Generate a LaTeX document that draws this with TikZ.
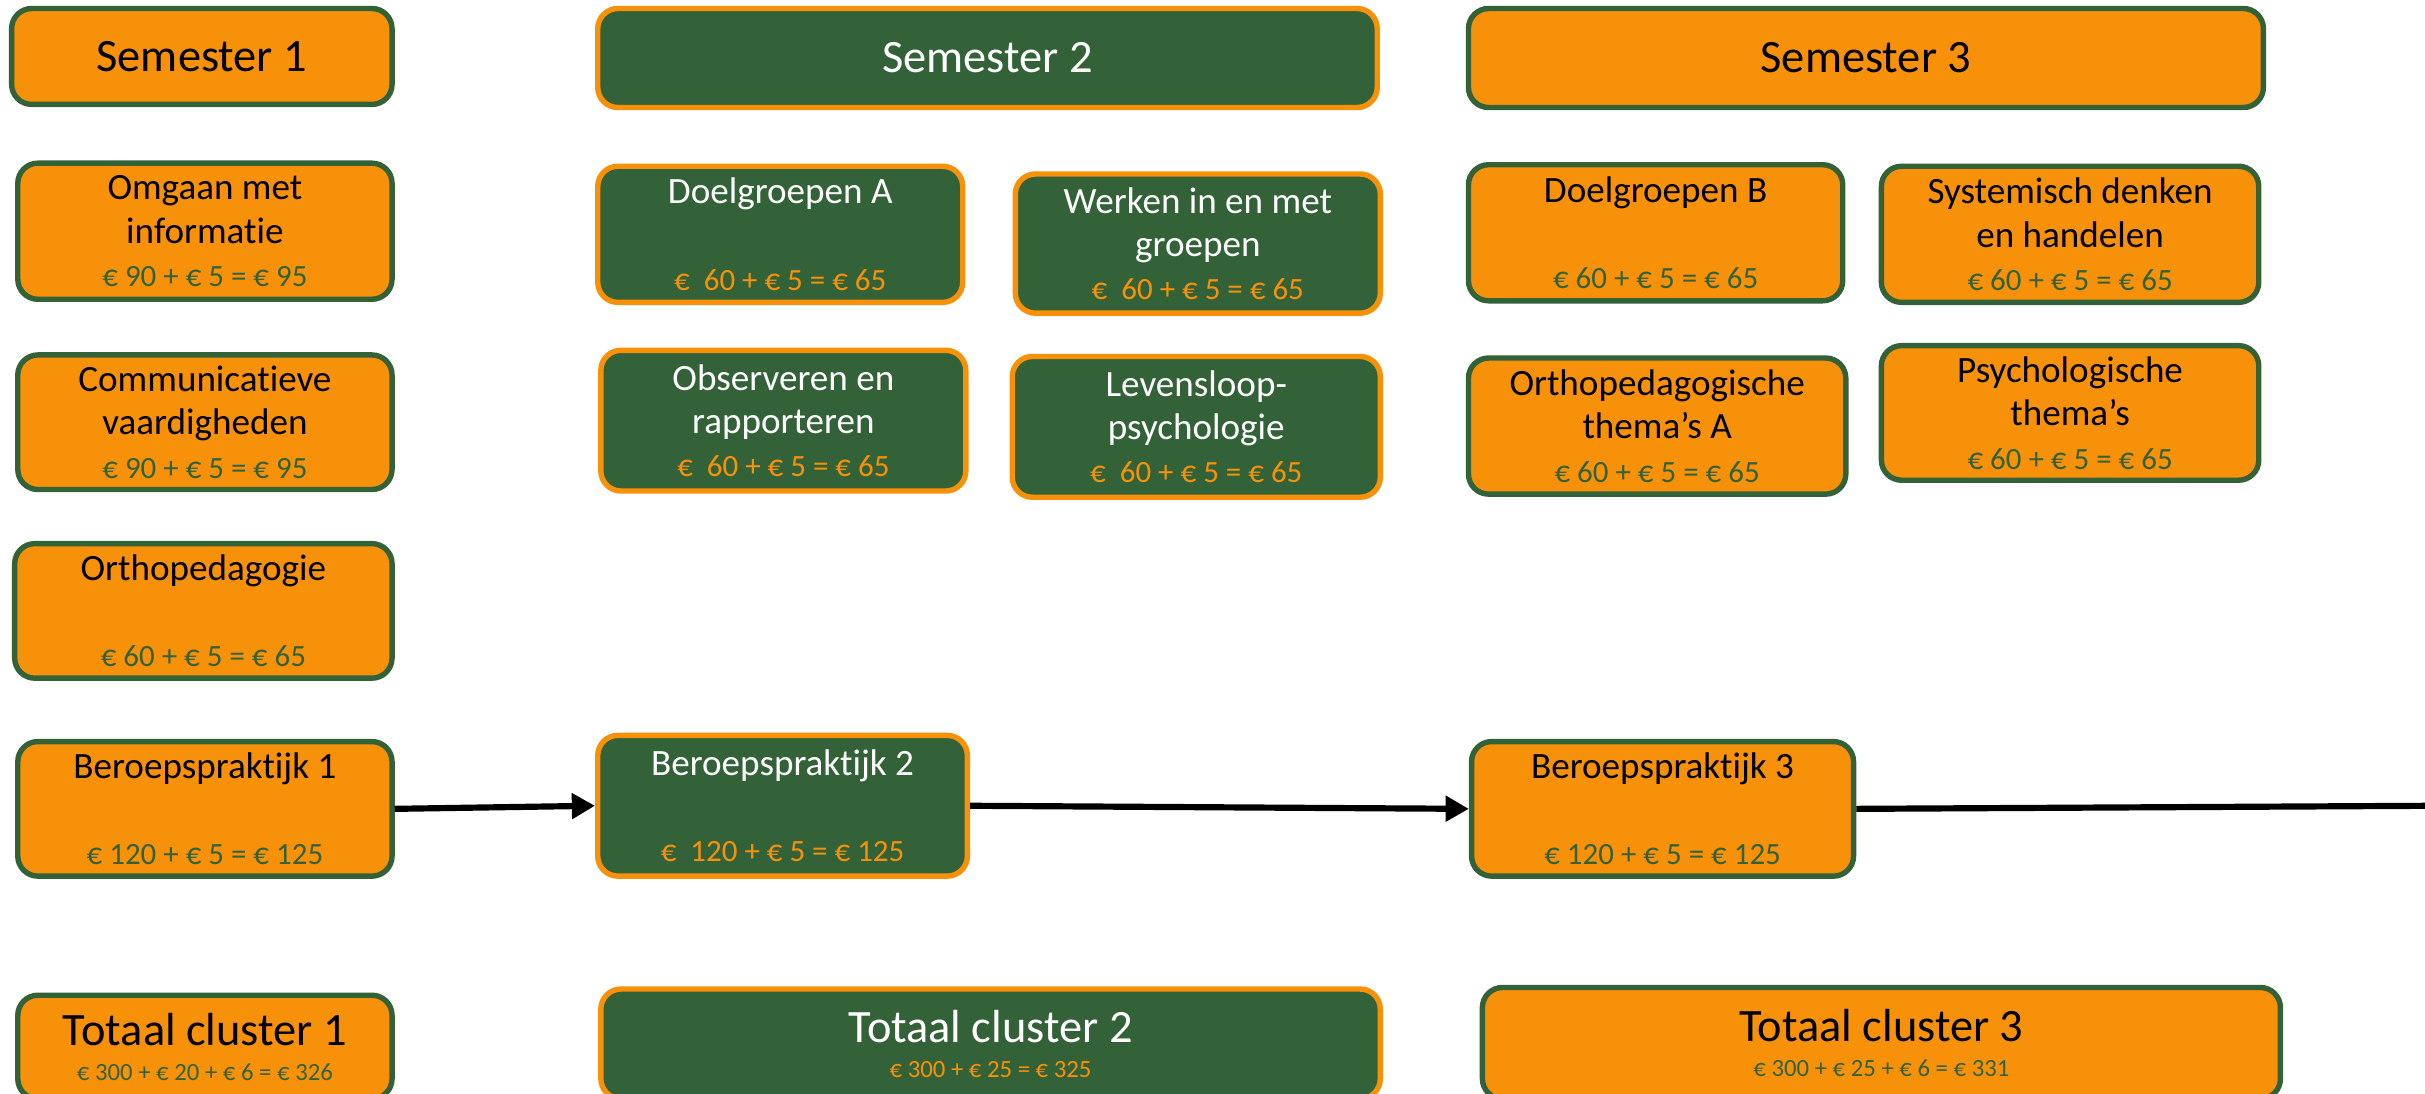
\documentclass[tikz,border=0pt]{standalone}
\usepackage{fontspec}
\setmainfont{Carlito}[RawFeature={-liga;-clig;-dlig;-calt}]
\usetikzlibrary{arrows.meta}
\definecolor{org}{RGB}{247,145,9}
\definecolor{grn}{RGB}{51,98,56}
\newcommand{\pg}[1]{{\fontsize{20}{28}\selectfont\color{grn}#1}}
\newcommand{\po}[1]{{\fontsize{20}{28}\selectfont\color{org}#1}}
\newcommand{\tg}[1]{{\fontsize{16}{22}\selectfont\color{grn}#1}}
\newcommand{\tor}[1]{{\fontsize{16}{22}\selectfont\color{org}#1}}
\tikzset{
  base/.style={line width=3.5pt, rounded corners=13pt, align=center, inner sep=0pt,
    font=\fontsize{24}{28}\selectfont},
  obox/.style={base, draw=grn, fill=org, text=black},
  gbox/.style={base, draw=org, fill=grn, text=white},
  sz/.style 2 args={minimum width=#1pt, minimum height=#2pt},
  semfont/.style={font=\fontsize{30}{36}\selectfont},
  totfont/.style={font=\fontsize{30}{23}\selectfont},
  arr/.style={line width=4pt, -{Triangle[length=15pt,width=16pt]}},
  line/.style={line width=4pt}
}
\begin{document}
\begin{tikzpicture}[x=1pt,y=-1pt]
\useasboundingbox (0,0) rectangle (1568,707);
% semesters
\node[obox, semfont, sz={246}{62}] (s1) at (130.5,36.5) {Semester 1};
\node[gbox, semfont, sz={504}{64}] (s2) at (638.5,37.5) {Semester 2};
\node[obox, semfont, sz={514}{64}] (s3) at (1206.5,37.5) {Semester 3};
% column 1
\node[obox, sz={242}{88}] (omg) at (132.5,149.5) {Omgaan met\\informatie\\\pg{€ 90 + € 5 = € 95}};
\node[obox, sz={242}{87}] (com) at (132.5,273) {Communicatieve\\vaardigheden\\\pg{€ 90 + € 5 = € 95}};
\node[obox, sz={244}{87}] (ort) at (131.5,395) {Orthopedagogie\\ \\\pg{€ 60 + € 5 = € 65}};
\node[obox, sz={242}{87}] (bp1) at (132.5,523) {Beroepspraktijk 1\\ \\\pg{€ 120 + € 5 = € 125}};
\node[obox, totfont, sz={242}{67}] (t1) at (132.5,677) {Totaal cluster 1\\\tg{€ 300 + € 20 + € 6 = € 326}};
% column 2
\node[gbox, sz={236}{88}] (dga) at (504.5,151.5) {Doelgroepen A\\ \\\po{€~~60 + € 5 = € 65}};
\node[gbox, sz={236}{90}] (wer) at (774.5,157.5) {Werken in en met\\groepen\\\po{€~~60 + € 5 = € 65}};
\node[gbox, sz={236}{91}] (obs) at (506.5,272) {Observeren en\\rapporteren\\\po{€~~60 + € 5 = € 65}};
\node[gbox, sz={238}{91}] (lev) at (773.5,276) {Levensloop-\\psychologie\\\po{€~~60 + € 5 = € 65}};
\node[gbox, sz={239}{91}] (bp2) at (506,521) {Beroepspraktijk 2\\ \\\po{€~~120 + € 5 = € 125}};
\node[gbox, totfont, sz={504}{71}] (t2) at (640.5,675) {Totaal cluster 2\\\tor{€ 300 + € 25 = € 325}};
% column 3
\node[obox, sz={242}{88}] (dgb) at (1070.5,150.5) {Doelgroepen B\\ \\\pg{€ 60 + € 5 = € 65}};
\node[obox, sz={244}{88}] (sys) at (1338.5,151.5) {Systemisch denken\\en handelen\\\pg{€ 60 + € 5 = € 65}};
\node[obox, sz={244}{88}] (otA) at (1071.5,275.5) {Orthopedagogische\\thema’s A\\\pg{€ 60 + € 5 = € 65}};
\node[obox, sz={244}{87}] (psy) at (1338.5,267) {Psychologische\\thema’s\\\pg{€ 60 + € 5 = € 65}};
\node[obox, sz={247}{87}] (bp3) at (1075,523) {Beroepspraktijk 3\\ \\\pg{€ 120 + € 5 = € 125}};
\node[obox, totfont, sz={516}{72}] (t3) at (1216.5,674.5) {Totaal cluster 3\\\tg{€ 300 + € 25 + € 6 = € 331}};
% connectors
\coordinate (rend) at (1575,521);
\draw[arr] (bp1.east) -- (bp2.west);
\draw[arr] (bp2.east) -- (bp3.west);
\draw[line] (bp3.east) -- (rend);
\end{tikzpicture}
\end{document}
